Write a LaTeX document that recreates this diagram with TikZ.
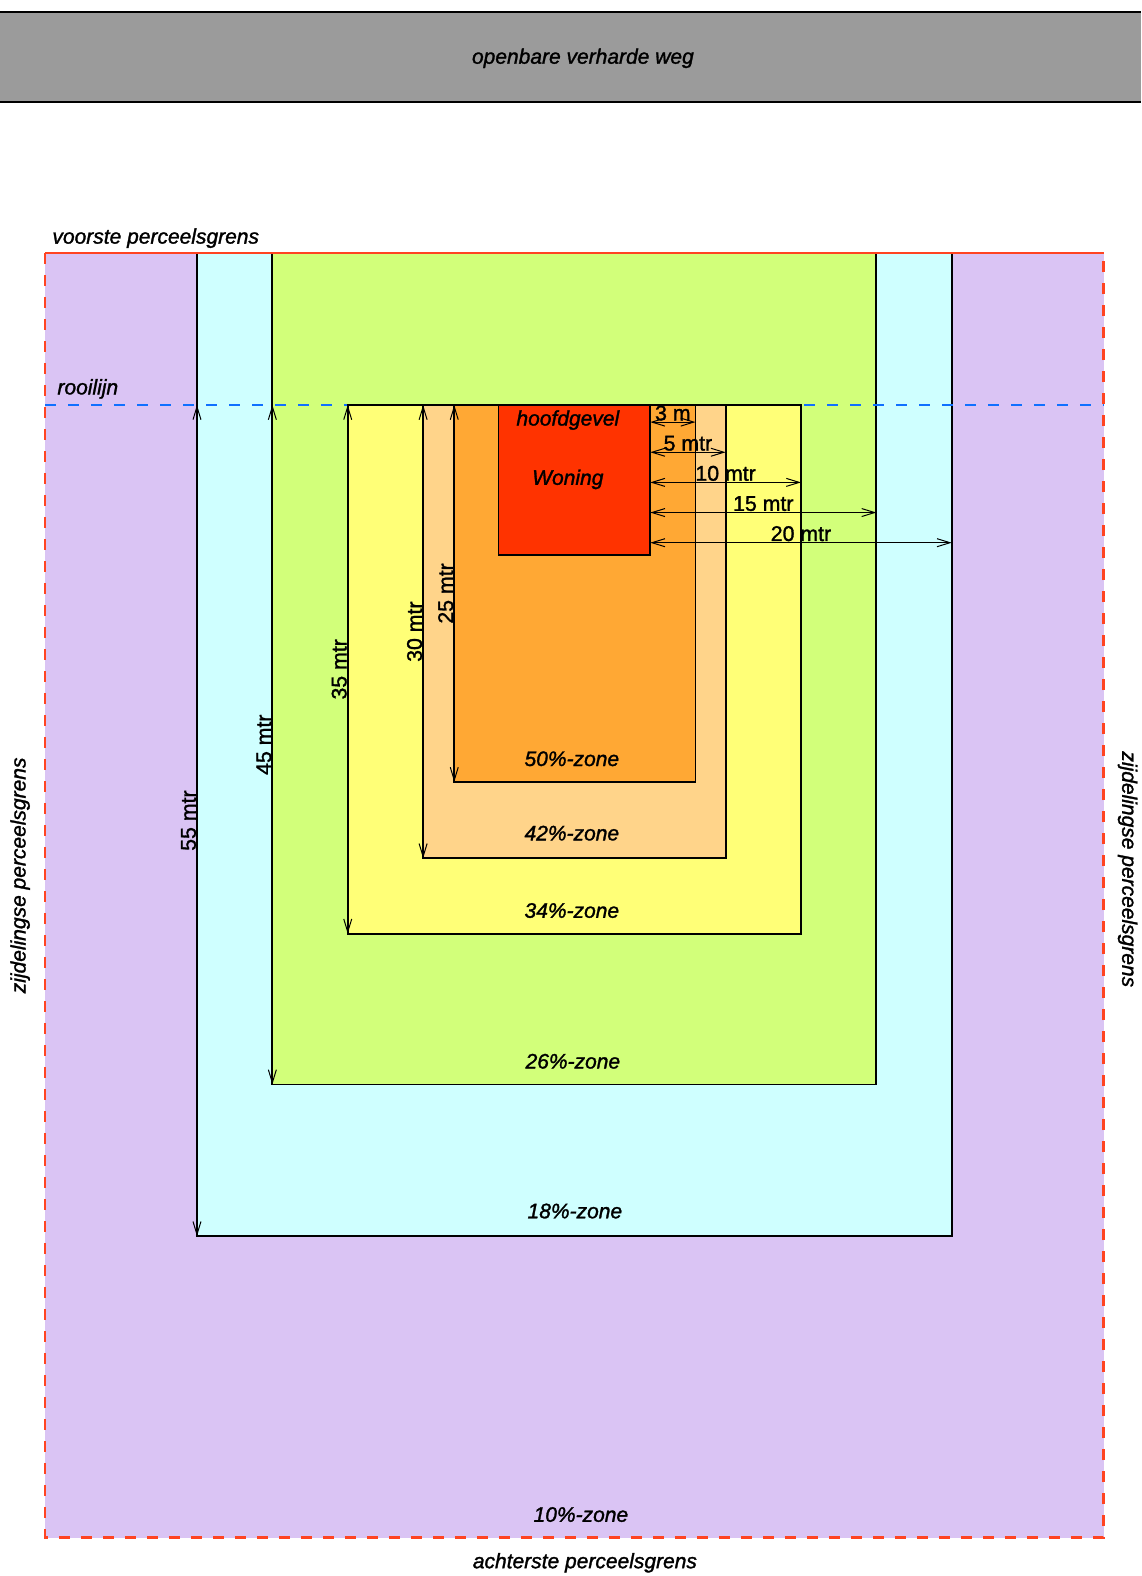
\documentclass[tikz,border=0pt]{standalone}
\usepackage{fontspec}
\setmainfont{Liberation Sans}[FakeBold=1.4]
\newfontfamily\lblfont{Liberation Sans}[ItalicFeatures={FakeBold=1.4}]
\usetikzlibrary{arrows.meta}
\definecolor{roadgray}{HTML}{9B9B9B}
\definecolor{zoneten}{HTML}{DAC4F4}
\definecolor{zoneeighteen}{HTML}{CFFFFF}
\definecolor{zonetwentysix}{HTML}{D2FF7A}
\definecolor{zonethirtyfour}{HTML}{FFFF77}
\definecolor{zonefortytwo}{HTML}{FFD48A}
\definecolor{zonefifty}{HTML}{FFA834}
\definecolor{woningred}{HTML}{FF3300}
\definecolor{grensred}{HTML}{FF4422}
\definecolor{rooiblue}{HTML}{1070FF}
\begin{document}
\begin{tikzpicture}[x=1.005bp,y=-1.005bp,
  lbl/.style={font=\lblfont\fontsize{21bp}{25bp}\selectfont\itshape, inner sep=0pt},
  dimlbl/.style={font=\fontsize{21.3bp}{25bp}\selectfont, inner sep=1bp},
  zonebox/.style={draw=black, line width=1.8bp},
  dimline/.style={line width=1bp, {Straight Barb[length=13bp,width=8bp]}-{Straight Barb[length=13bp,width=8bp]}},
  redgrens/.style={draw=grensred, line width=2.4bp},
]
\useasboundingbox (0,0) rectangle (1135.32,1568.16);
\fill[white] (0,0) rectangle (1135.32,1568.16);

% road
\fill[roadgray] (0,12) rectangle (1135.32,101);
\draw[line width=2bp] (0,12) -- (1135.32,12);
\draw[line width=2bp] (0,101) -- (1135.32,101);
\node[lbl] (road) at (580,58) {openbare verharde weg};

% parcel 10%
\fill[zoneten] (45,252) rectangle (1098,1530);
% 18%
\fill[zoneeighteen] (196,252) rectangle (947,1230);
\draw[zonebox] (196,252) rectangle (947,1230);
% 26%
\fill[zonetwentysix] (271,252) rectangle (872,1079);
\draw[zonebox] (271,252) rectangle (872,1079);
% rooilijn
\coordinate (rooiL) at (45,403);
\coordinate (rooiR) at (1098,403);
\draw[rooiblue, line width=2bp, dash pattern=on 11bp off 12bp] (rooiL) -- (rooiR);
% 34%
\fill[zonethirtyfour] (346,403) rectangle (797,929);
\draw[zonebox] (346,403) rectangle (797,929);
% 42%
\fill[zonefortytwo] (421,403) rectangle (722,854);
\draw[zonebox] (421,403) rectangle (722,854);
% 50%
\fill[zonefifty] (452,403) rectangle (692,778);
\draw[zonebox] (452,403) rectangle (692,778);
% woning
\fill[woningred] (496,403) rectangle (647,552);
\draw[zonebox] (496,403) rectangle (647,552);

% horizontal dimensions
\coordinate (h3a) at (647,420);  \coordinate (h3b) at (692,420);
\coordinate (h5a) at (647,450);  \coordinate (h5b) at (722,450);
\coordinate (h10a) at (647,480); \coordinate (h10b) at (797,480);
\coordinate (h15a) at (647,510); \coordinate (h15b) at (872,510);
\coordinate (h20a) at (647,540); \coordinate (h20b) at (947,540);
\draw[dimline] (h3a) -- (h3b) node[dimlbl, midway, anchor=south] (l3) {3 m};
\draw[dimline] (h5a) -- (h5b) node[dimlbl, midway, anchor=south] (l5) {5 mtr};
\draw[dimline] (h10a) -- (h10b) node[dimlbl, midway, anchor=south] (l10) {10 mtr};
\draw[dimline] (h15a) -- (h15b) node[dimlbl, midway, anchor=south] (l15) {15 mtr};
\draw[dimline] (h20a) -- (h20b) node[dimlbl, midway, anchor=south] (l20) {20 mtr};

% vertical dimensions
\coordinate (v55a) at (196,403); \coordinate (v55b) at (196,1230);
\coordinate (v45a) at (271,403); \coordinate (v45b) at (271,1079);
\coordinate (v35a) at (346,403); \coordinate (v35b) at (346,929);
\coordinate (v30a) at (421,403); \coordinate (v30b) at (421,854);
\coordinate (v25a) at (452,403); \coordinate (v25b) at (452,778);
\draw[dimline] (v55a) -- (v55b) node[dimlbl, midway, anchor=south, rotate=90, inner sep=0.5bp] (l55) {55 mtr};
\draw[dimline] (v45a) -- (v45b) node[dimlbl, midway, anchor=south, rotate=90, inner sep=0.5bp] (l45) {45 mtr};
\draw[dimline] (v35a) -- (v35b) node[dimlbl, midway, anchor=south, rotate=90, inner sep=0.5bp] (l35) {35 mtr};
\draw[dimline] (v30a) -- (v30b) node[dimlbl, midway, anchor=south, rotate=90, inner sep=0.5bp] (l30) {30 mtr};
\draw[dimline] (v25a) -- (v25b) node[dimlbl, midway, anchor=south, rotate=90, inner sep=0.5bp] (l25) {25 mtr};

% parcel boundary
\draw[redgrens] (45,252) -- (1098,252);
\draw[redgrens, dash pattern=on 11bp off 11bp] (45,252) -- (45,1530) -- (1098,1530) -- (1098,252);

% labels
\node[lbl, anchor=west] (voorste) at (52,237) {voorste perceelsgrens};
\node[lbl, anchor=west] (rooilijn) at (57,387) {rooilijn};
\node[lbl, rotate=90] (zijL) at (20,871) {zijdelingse perceelsgrens};
\node[lbl, rotate=-90] (zijR) at (1122,865) {zijdelingse perceelsgrens};
\node[lbl] (achter) at (582,1555) {achterste perceelsgrens};
\node[lbl] (z10) at (578,1507) {10\%-zone};
\node[lbl] (z18) at (572,1205) {18\%-zone};
\node[lbl] (z26) at (570,1056) {26\%-zone};
\node[lbl] (z34) at (569,906) {34\%-zone};
\node[lbl] (z42) at (569,829) {42\%-zone};
\node[lbl] (z50) at (569,755) {50\%-zone};
\node[lbl] (hoofd) at (565,418) {hoofdgevel};
\node[lbl] (woning) at (565,477) {Woning};
\end{tikzpicture}
\end{document}
